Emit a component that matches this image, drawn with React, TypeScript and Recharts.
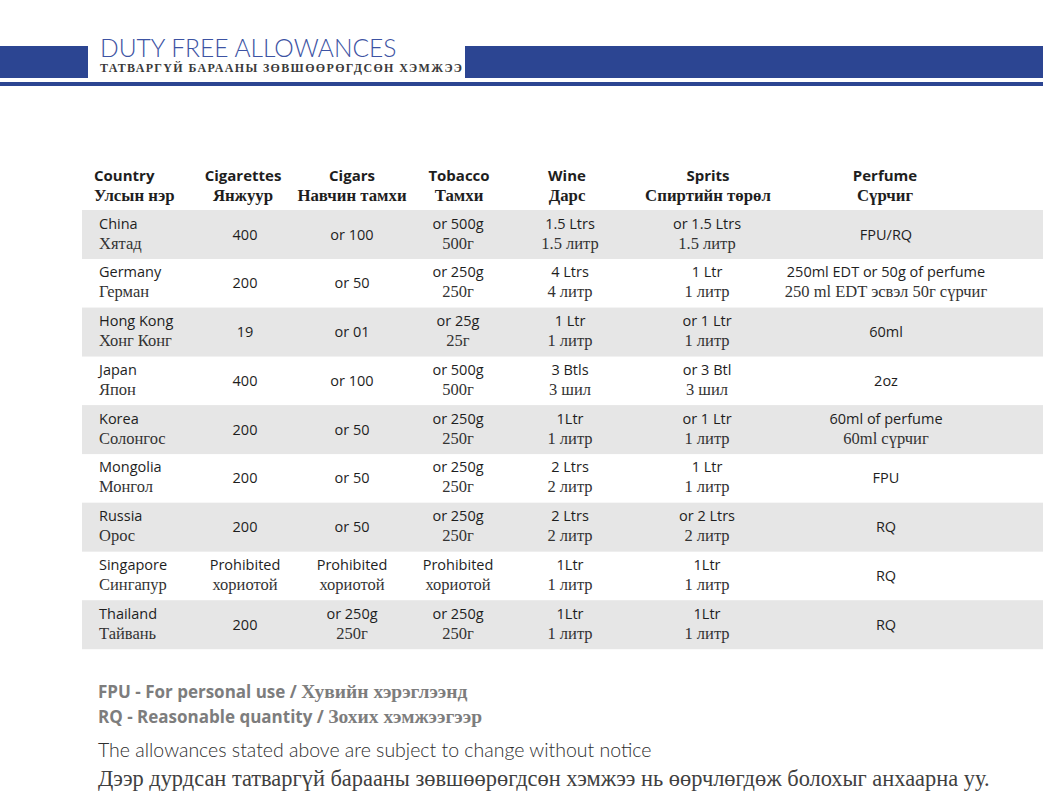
import { BarChart, Bar, XAxis, YAxis } from 'recharts';

// table content, one array per column
const COUNTRIES = ['China', 'Germany', 'Hong Kong', 'Japan', 'Korea', 'Mongolia', 'Russia', 'Singapore', 'Thailand'];
const COUNTRIES_MN = ['Хятад', 'Герман', 'Хонг Конг', 'Япон', 'Солонгос', 'Монгол', 'Орос', 'Сингапур', 'Тайвань'];
const CIGARETTES = ['400', '200', '19', '400', '200', '200', '200', 'Prohibited', '200'];
const CIGARETTES_MN = ['', '', '', '', '', '', '', 'хориотой', ''];
const CIGARS = ['or 100', 'or 50', 'or 01', 'or 100', 'or 50', 'or 50', 'or 50', 'Prohibited', 'or 250g'];
const CIGARS_MN = ['', '', '', '', '', '', '', 'хориотой', '250г'];
const TOBACCO = ['or 500g', 'or 250g', 'or 25g', 'or 500g', 'or 250g', 'or 250g', 'or 250g', 'Prohibited', 'or 250g'];
const TOBACCO_MN = ['500г', '250г', '25г', '500г', '250г', '250г', '250г', 'хориотой', '250г'];
const WINE = ['1.5 Ltrs', '4 Ltrs', '1 Ltr', '3 Btls', '1Ltr', '2 Ltrs', '2 Ltrs', '1Ltr', '1Ltr'];
const WINE_MN = ['1.5 литр', '4 литр', '1 литр', '3 шил', '1 литр', '2 литр', '2 литр', '1 литр', '1 литр'];
const SPIRITS = ['or 1.5 Ltrs', '1 Ltr', 'or 1 Ltr', 'or 3 Btl', 'or 1 Ltr', '1 Ltr', 'or 2 Ltrs', '1Ltr', '1Ltr'];
const SPIRITS_MN = ['1.5 литр', '1 литр', '1 литр', '3 шил', '1 литр', '1 литр', '2 литр', '1 литр', '1 литр'];
const PERFUME = ['FPU/RQ', '250ml EDT or 50g of perfume', '60ml', '2oz', '60ml of perfume', 'FPU', 'RQ', 'RQ', 'RQ'];
const PERFUME_MN = ['', '250 ml EDT эсвэл 50г сүрчиг', '', '', '60ml сүрчиг', '', '', '', ''];

const HEADERS = ['Country', 'Cigarettes', 'Cigars', 'Tobacco', 'Wine', 'Sprits', 'Perfume'];
const HEADERS_MN = ['Улсын нэр', 'Янжуур', 'Навчин тамхи', 'Тамхи', 'Дарс', 'Спиртийн төрөл', 'Сүрчиг'];

const COLUMNS = [
  [CIGARETTES, CIGARETTES_MN],
  [CIGARS, CIGARS_MN],
  [TOBACCO, TOBACCO_MN],
  [WINE, WINE_MN],
  [SPIRITS, SPIRITS_MN],
  [PERFUME, PERFUME_MN],
];

// layout
const W = 1043;
const H = 810;
const COL_X = [245, 352, 458, 570, 707, 886];
const NAME_X = 99;
const BLUE = '#2c4592';
const SANS = "'Open Sans', sans-serif";
const SERIF = "'Liberation Serif', serif";
const INK = '#1e1e1e';
const INK_MN = '#333';

const rows = COUNTRIES.map((c, i) => ({ country: c, band: 1, i }));

const RowShape = (props: any) => {
  const { x, y, width, height, index } = props;
  const cy = y + height / 2;
  return (
    <g>
      {index % 2 === 0 && <rect x={x} y={y} width={width} height={height} fill="#e6e6e6" />}
      <text x={NAME_X} y={cy - 6} fontFamily={SANS} fontSize={14.5} fill={INK}>{COUNTRIES[index]}</text>
      <text x={NAME_X} y={cy + 14} fontFamily={SERIF} fontSize={16.5} fill={INK_MN}>{COUNTRIES_MN[index]}</text>
      {COLUMNS.map(([en, mn], c) =>
        mn[index] ? (
          <g key={c}>
            <text x={COL_X[c]} y={cy - 6} textAnchor="middle" fontFamily={SANS} fontSize={14.5} fill={INK}>{en[index]}</text>
            <text x={COL_X[c]} y={cy + 14} textAnchor="middle" fontFamily={SERIF} fontSize={16.5} fill={INK_MN}>{mn[index]}</text>
          </g>
        ) : (
          <text key={c} x={COL_X[c]} y={cy + 5} textAnchor="middle" fontFamily={SANS} fontSize={14.5} fill={INK}>{en[index]}</text>
        )
      )}
    </g>
  );
};

export default function App() {
  const headX = [94, 243, 352, 459, 567, 708, 885];
  return (
    <div style={{ position: 'relative', width: W, height: H, background: '#fff', overflow: 'hidden' }}>
      <style>{'body { margin: 0; }'}</style>
      <BarChart
        width={W}
        height={H}
        layout="vertical"
        data={rows}
        margin={{ top: 210, right: 0, bottom: 161, left: 82 }}
        barCategoryGap={0}
      >
        <XAxis type="number" domain={[0, 1]} hide />
        <YAxis type="category" dataKey="country" hide />
        <Bar dataKey="band" isAnimationActive={false} shape={RowShape} />
      </BarChart>

      <svg width={W} height={H} style={{ position: 'absolute', left: 0, top: 0, pointerEvents: 'none' }}>
        {/* title band */}
        <rect x={0} y={46} width={88} height={32} fill={BLUE} />
        <rect x={465} y={46} width={W - 465} height={32} fill={BLUE} />
        <rect x={0} y={82} width={W} height={4} fill={BLUE} />
        <text x={100} y={57} fontFamily="Lato, sans-serif" fontWeight={300} fontSize={24.6} fill="#3d53a3">
          DUTY FREE ALLOWANCES
        </text>
        <text x={100} y={72} fontFamily={SERIF} fontWeight={700} fontSize={12} letterSpacing={1.35} fill="#3a3a3a">
          ТАТВАРГҮЙ БАРААНЫ ЗӨВШӨӨРӨГДСӨН ХЭМЖЭЭ
        </text>

        {/* column headers */}
        {HEADERS.map((h, i) => (
          <g key={h}>
            <text x={headX[i]} y={181} textAnchor={i === 0 ? 'start' : 'middle'} fontFamily={SANS} fontWeight={700} fontSize={15} fill={INK}>{h}</text>
            <text x={headX[i]} y={201} textAnchor={i === 0 ? 'start' : 'middle'} fontFamily={SERIF} fontWeight={700} fontSize={16.8} fill={INK}>{HEADERS_MN[i]}</text>
          </g>
        ))}

        {/* notes */}
        <text x={98} y={698} fill="#7d7d7d">
          <tspan fontFamily={SANS} fontWeight={700} fontSize={17}>FPU - For personal use / </tspan>
          <tspan fontFamily={SERIF} fontWeight={700} fontSize={19.5}>Хувийн хэрэглээнд</tspan>
        </text>
        <text x={98} y={723} fill="#7d7d7d">
          <tspan fontFamily={SANS} fontWeight={700} fontSize={17}>RQ - Reasonable quantity / </tspan>
          <tspan fontFamily={SERIF} fontWeight={700} fontSize={19.5}>Зохих хэмжээгээр</tspan>
        </text>
        <text x={98} y={757} fontFamily="Lato, sans-serif" fontWeight={300} fontSize={19.5} fill="#2e2e2e">
          The allowances stated above are subject to change without notice
        </text>
        <text x={98} y={786} fontFamily={SERIF} fontSize={22.4} fill="#404040">
          Дээр дурдсан татваргүй барааны зөвшөөрөгдсөн хэмжээ нь өөрчлөгдөж болохыг анхаарна уу.
        </text>
      </svg>
    </div>
  );
}
